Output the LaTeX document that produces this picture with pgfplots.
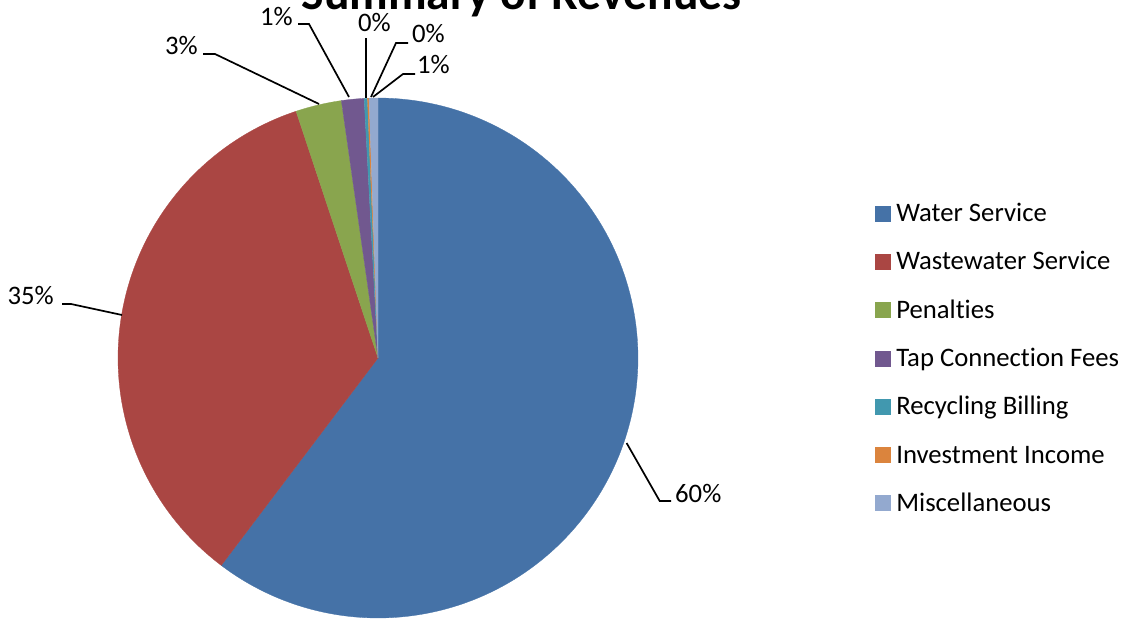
\documentclass[border=0pt]{standalone}
\usepackage{pgfplots}
\pgfplotsset{compat=1.18}
\usepackage{fontspec}
\setmainfont{Carlito}[Ligatures={NoCommon}]
\definecolor{cWater}{HTML}{4572A7}
\definecolor{cWaste}{HTML}{AA4643}
\definecolor{cPen}{HTML}{89A54E}
\definecolor{cTap}{HTML}{71588F}
\definecolor{cRec}{HTML}{4198AF}
\definecolor{cInv}{HTML}{DB843D}
\definecolor{cMisc}{HTML}{93A9CF}
% shares in percent
\def\vA{60.3}  % Water Service
\def\vB{34.6}  % Wastewater Service
\def\vC{2.85}  % Penalties
\def\vD{1.4}   % Tap Connection Fees
\def\vE{0.2}   % Recycling Billing
\def\vF{0.1}   % Investment Income
\def\vG{0.55}  % Miscellaneous
\newcommand\labfont{\fontsize{26.7}{30}\selectfont}
\begin{document}
\begin{tikzpicture}
\pgfmathsetmacro\aA{0}
\pgfmathsetmacro\aB{\aA+3.6*\vA}
\pgfmathsetmacro\aC{\aB+3.6*\vB}
\pgfmathsetmacro\aD{\aC+3.6*\vC}
\pgfmathsetmacro\aE{\aD+3.6*\vD}
\pgfmathsetmacro\aF{\aE+3.6*\vE}
\pgfmathsetmacro\aG{\aF+3.6*\vF}
\pgfmathsetmacro\aH{\aG+3.6*\vG}
\begin{axis}[name=ax, width=1133pt, height=620pt, scale only axis,
  xmin=0, xmax=1133, ymin=0, ymax=620, y dir=reverse,
  hide axis, clip=false,
  legend style={at={(axis cs:875,199.6)}, anchor=north west, draw=none, fill=none,
    inner sep=0pt, outer sep=0pt, font=\labfont, row sep=20.9pt, column sep=6pt,
    nodes={inner sep=0pt, outer sep=0pt, text height=22pt, text depth=5.4pt}},
  legend cell align=left,
  legend image code/.code={\fill[#1] (0pt,-7.5pt) rectangle (15pt,7.5pt);},
]
\addplot[fill=cWater, draw=cWater, line width=0.3pt, domain=\aA:\aB, samples=150] ({378+260*sin(x)},{358-260*cos(x)}) -- (378,358) -- cycle;
\addlegendentry{Water Service}
\addplot[fill=cWaste, draw=cWaste, line width=0.3pt, domain=\aB:\aC, samples=100] ({378+260*sin(x)},{358-260*cos(x)}) -- (378,358) -- cycle;
\addlegendentry{Wastewater Service}
\addplot[fill=cPen, draw=cPen, line width=0.3pt, domain=\aC:\aD, samples=20] ({378+260*sin(x)},{358-260*cos(x)}) -- (378,358) -- cycle;
\addlegendentry{Penalties}
\addplot[fill=cTap, draw=cTap, line width=0.3pt, domain=\aD:\aE, samples=10] ({378+260*sin(x)},{358-260*cos(x)}) -- (378,358) -- cycle;
\addlegendentry{Tap Connection Fees}
\addplot[fill=cRec, draw=cRec, line width=0.3pt, domain=\aE:\aF, samples=4] ({378+260*sin(x)},{358-260*cos(x)}) -- (378,358) -- cycle;
\addlegendentry{Recycling Billing}
\addplot[fill=cInv, draw=cInv, line width=0.2pt, domain=\aF:\aG, samples=4] ({378+260*sin(x)},{358-260*cos(x)}) -- (378,358) -- cycle;
\addlegendentry{Investment Income}
\addplot[fill=cMisc, draw=cMisc, line width=0.3pt, domain=\aG:\aH, samples=6] ({378+260*sin(x)},{358-260*cos(x)}) -- (378,358) -- cycle;
\addlegendentry{Miscellaneous}
% leader lines
\draw[line width=1.7pt] (626.6,443) -- (659.7,501) -- (671,501);
\draw[line width=1.7pt] (122,315) -- (71,304) -- (62,304);
\draw[line width=1.7pt] (319,104) -- (215,54) -- (203,54);
\draw[line width=1.7pt] (349,97) -- (309,24) -- (298,24);
\draw[line width=1.7pt] (366,98) -- (366,38);
\draw[line width=1.7pt] (371,97) -- (396,43) -- (408,43);
\draw[line width=1.7pt] (373,97) -- (403,74) -- (415,74);
% data labels
\node[anchor=base west, inner sep=0pt, font=\labfont] at (675,502) {60\%};
\node[anchor=base east, inner sep=0pt, font=\labfont] at (54,305) {35\%};
\node[anchor=base east, inner sep=0pt, font=\labfont] at (198,55) {3\%};
\node[anchor=base east, inner sep=0pt, font=\labfont] at (293,26) {1\%};
\node[anchor=base west, inner sep=0pt, font=\labfont] at (358,32) {0\%};
\node[anchor=base west, inner sep=0pt, font=\labfont] at (412,43) {0\%};
\node[anchor=base west, inner sep=0pt, font=\labfont] at (417,74) {1\%};
% title
\node[anchor=base, inner sep=0pt, font=\fontsize{47.5}{52}\selectfont\bfseries] at (521.5,10) {Summary of Revenues};
\end{axis}
\pgfresetboundingbox
\useasboundingbox (ax.south west) rectangle (ax.north east);
\end{tikzpicture}
\end{document}
